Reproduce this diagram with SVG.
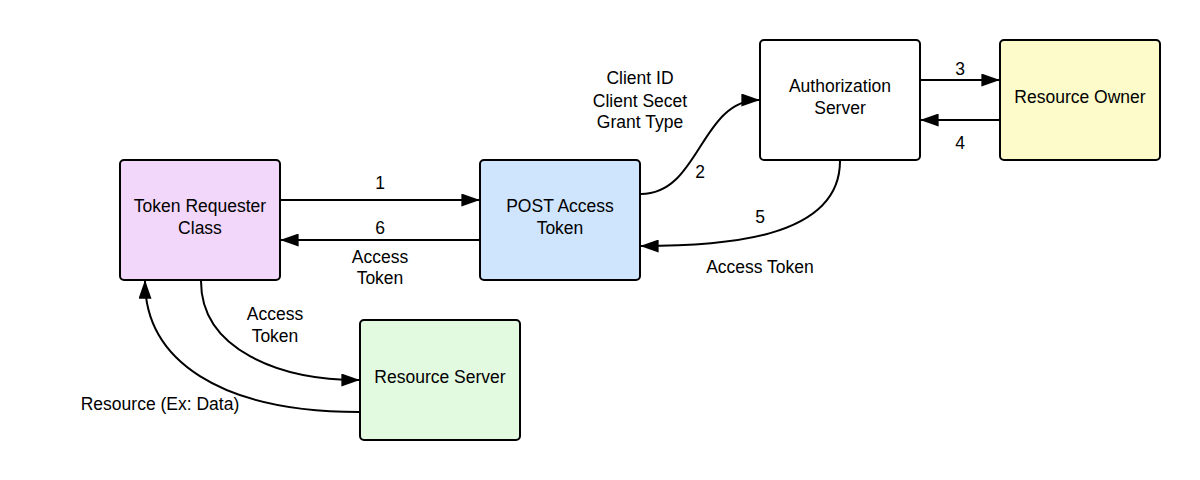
<svg xmlns="http://www.w3.org/2000/svg" width="1200" height="480" viewBox="0 0 1200 480">
<style>
.box{stroke:#000;stroke-width:2;}
.t{font-family:"Liberation Sans",Arial,sans-serif;font-size:17.5px;fill:#000;text-anchor:middle;}
.c{fill:none;stroke:#000;stroke-width:2;}
</style>
<defs>
<marker id="ah" viewBox="0 0 20 14" refX="19" refY="7" markerWidth="19" markerHeight="13" markerUnits="userSpaceOnUse" orient="auto">
<path d="M0,0 L20,7 L0,14 Z" fill="#000"/>
</marker>
</defs>
<rect width="1200" height="480" fill="#fff"/>
<g id="connectors">
<path class="c" d="M281,200 L479,200" marker-end="url(#ah)"/>
<path class="c" d="M479,240 L281,240" marker-end="url(#ah)"/>
<path class="c" d="M641,194 C700,194 700,100 759,100" marker-end="url(#ah)"/>
<path class="c" d="M921,80 L999,80" marker-end="url(#ah)"/>
<path class="c" d="M999,120 L921,120" marker-end="url(#ah)"/>
<path class="c" d="M840,161 C840,240 720,246 641,246" marker-end="url(#ah)"/>
<path class="c" d="M201,281 C201,350 280,380 359,380" marker-end="url(#ah)"/>
<path class="c" d="M359,412 C220,412 145,360 145,281" marker-end="url(#ah)"/>
<text class="t" x="380" y="189">1</text>
<text class="t" x="380" y="234">6</text>
<text class="t" x="380" y="263">Access</text>
<text class="t" x="380" y="284">Token</text>
<text class="t" x="640" y="84">Client ID</text>
<text class="t" x="640" y="107">Client Secet</text>
<text class="t" x="640" y="128">Grant Type</text>
<text class="t" x="700" y="178">2</text>
<text class="t" x="960" y="75">3</text>
<text class="t" x="960" y="149">4</text>
<text class="t" x="760" y="223">5</text>
<text class="t" x="760" y="273">Access Token</text>
<text class="t" x="275" y="320">Access</text>
<text class="t" x="275" y="342">Token</text>
<text class="t" x="160" y="410">Resource (Ex: Data)</text>
</g>
<g id="token-requester">
<rect class="box" x="120" y="160" width="160" height="120" rx="4" fill="#f2d7fb"/>
<text class="t" x="200" y="212">Token Requester</text>
<text class="t" x="200" y="234">Class</text>
</g>
<g id="post-access-token">
<rect class="box" x="480" y="160" width="160" height="120" rx="4" fill="#cfe4fd"/>
<text class="t" x="560" y="212">POST Access</text>
<text class="t" x="560" y="234">Token</text>
</g>
<g id="authorization-server">
<rect class="box" x="760" y="40" width="160" height="120" rx="4" fill="#fff"/>
<text class="t" x="840" y="92">Authorization</text>
<text class="t" x="840" y="114">Server</text>
</g>
<g id="resource-owner">
<rect class="box" x="1000" y="40" width="160" height="120" rx="4" fill="#fcfbc9"/>
<text class="t" x="1080" y="103">Resource Owner</text>
</g>
<g id="resource-server">
<rect class="box" x="360" y="320" width="160" height="120" rx="4" fill="#e2fae0"/>
<text class="t" x="440" y="383">Resource Server</text>
</g>
</svg>
